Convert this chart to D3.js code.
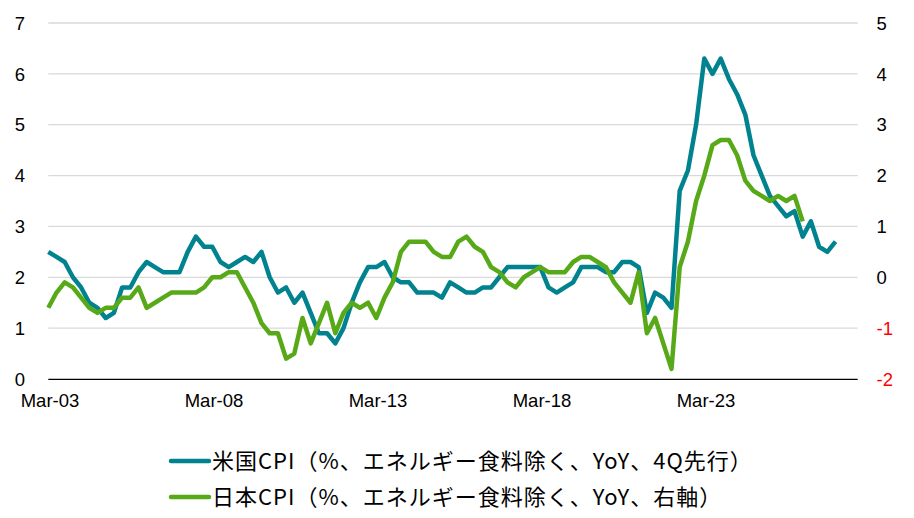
<!DOCTYPE html>
<meta charset="utf-8">
<style>
  body { margin: 0; background: #fff; }
  svg text { font-family: "Liberation Sans", Arial, sans-serif; }
  .legend text { font-family: "Noto Sans CJK JP", sans-serif; }
</style>
<script src="https://d3js.org/d3.v7.min.js"></script>
<body>
<svg width="914" height="518"></svg>
<script>
// quarterly, Mar-03 onward
var startYear = 2003;
var nQuarters = 100;
var tickLabels = ["Mar-03", "Mar-08", "Mar-13", "Mar-18", "Mar-23"];
var leftTicks = [0, 1, 2, 3, 4, 5, 6, 7];
var rightTicks = [-2, -1, 0, 1, 2, 3, 4, 5];

// US core CPI (YoY, shifted 4Q ahead) - left axis
var usCpi = [2.5, 2.4, 2.3, 2.0, 1.8, 1.5, 1.4, 1.2, 1.3, 1.8,
  1.8, 2.1, 2.3, 2.2, 2.1, 2.1, 2.1, 2.5, 2.8, 2.6,
  2.6, 2.3, 2.2, 2.3, 2.4, 2.3, 2.5, 2.0, 1.7, 1.8,
  1.5, 1.7, 1.3, 0.9, 0.9, 0.7, 1.0, 1.5, 1.9, 2.2,
  2.2, 2.3, 2.0, 1.9, 1.9, 1.7, 1.7, 1.7, 1.6, 1.9,
  1.8, 1.7, 1.7, 1.8, 1.8, 2.0, 2.2, 2.2, 2.2, 2.2,
  2.2, 1.8, 1.7, 1.8, 1.9, 2.2, 2.2, 2.2, 2.1, 2.1,
  2.3, 2.3, 2.2, 1.3, 1.7, 1.6, 1.4, 3.7, 4.1, 5.0,
  6.3, 6.0, 6.3, 5.9, 5.6, 5.2, 4.4, 4.0, 3.6, 3.4,
  3.2, 3.3, 2.8, 3.1, 2.6, 2.5, 2.7];

// Japan core CPI (YoY) - right axis
var jpCpi = [-0.6, -0.3, -0.1, -0.2, -0.4, -0.6, -0.7, -0.6, -0.6, -0.4,
  -0.4, -0.2, -0.6, -0.5, -0.4, -0.3, -0.3, -0.3, -0.3, -0.2,
  0.0, 0.0, 0.1, 0.1, -0.2, -0.5, -0.9, -1.1, -1.1, -1.6,
  -1.5, -0.8, -1.3, -0.9, -0.5, -1.1, -0.7, -0.5, -0.6, -0.5,
  -0.8, -0.4, -0.1, 0.5, 0.7, 0.7, 0.7, 0.5, 0.4, 0.4,
  0.7, 0.8, 0.6, 0.5, 0.2, 0.1, -0.1, -0.2, 0.0, 0.1,
  0.2, 0.1, 0.1, 0.1, 0.3, 0.4, 0.4, 0.3, 0.2, -0.1,
  -0.3, -0.5, 0.1, -1.1, -0.8, -1.3, -1.8, 0.2, 0.7, 1.5,
  2.0, 2.6, 2.7, 2.7, 2.4, 1.9, 1.7, 1.6, 1.5, 1.6,
  1.5, 1.6, 1.1];

var usName = "米国CPI（%、エネルギー食料除く、YoY、4Q先行）";
var jpName = "日本CPI（%、エネルギー食料除く、YoY、右軸）";
var usColor = "#00838f";
var jpColor = "#57a918";

var months = ["Mar", "Jun", "Sep", "Dec"];
var quarters = d3.range(nQuarters).map(function (i) {
  var y = startYear + Math.floor(i / 4);
  return months[i % 4] + "-" + String(y % 100).padStart(2, "0");
});

var svg = d3.select("svg");
var plotLeft = 48.3, plotRight = 857.7, plotTop = 23, plotBottom = 379;

var x = d3.scalePoint().domain(quarters).range([plotLeft, plotLeft + 8.2 * (nQuarters - 1)]);
var yL = d3.scaleLinear().domain([0, 7]).range([plotBottom, plotTop]);
var yR = d3.scaleLinear().domain([-2, 5]).range([plotBottom, plotTop]);

// gridlines
svg.append("g").selectAll("line")
  .data(leftTicks.filter(function (d) { return d > 0; }))
  .enter().append("line")
  .attr("x1", plotLeft).attr("x2", plotRight)
  .attr("y1", function (d) { return yL(d); })
  .attr("y2", function (d) { return yL(d); })
  .attr("stroke", "#d9d9d9").attr("stroke-width", 1.3);

// left axis labels
svg.append("g").selectAll("text")
  .data(leftTicks).enter().append("text")
  .attr("x", 25).attr("y", function (d) { return yL(d) + 6.7; })
  .attr("text-anchor", "end")
  .attr("font-size", "18.5px").attr("fill", "#000")
  .text(function (d) { return d; });

// right axis labels (negatives in red)
svg.append("g").selectAll("text")
  .data(rightTicks).enter().append("text")
  .attr("x", 876.5).attr("y", function (d) { return yR(d) + 6.7; })
  .attr("font-size", "18.5px")
  .attr("fill", function (d) { return d < 0 ? "#ff0000" : "#000"; })
  .text(function (d) { return d; });

// x axis
svg.append("line")
  .attr("x1", plotLeft).attr("x2", plotRight)
  .attr("y1", plotBottom + 0.3).attr("y2", plotBottom + 0.3)
  .attr("stroke", "#000").attr("stroke-width", 1.2);

svg.append("g").selectAll("text")
  .data(tickLabels).enter().append("text")
  .attr("x", function (d) { return x(d) + 1.7; })
  .attr("y", 406.7)
  .attr("text-anchor", "middle")
  .attr("font-size", "18.5px").attr("fill", "#000")
  .text(function (d) { return d; });

// lines
var lineL = d3.line()
  .x(function (d, i) { return x(quarters[i]); })
  .y(function (d) { return yL(d); });
var lineR = d3.line()
  .x(function (d, i) { return x(quarters[i]); })
  .y(function (d) { return yR(d); });

svg.append("path").datum(usCpi)
  .attr("d", lineL).attr("fill", "none")
  .attr("stroke", usColor).attr("stroke-width", 4.5)
  .attr("stroke-linejoin", "round");

svg.append("path").datum(jpCpi)
  .attr("d", lineR).attr("fill", "none")
  .attr("stroke", jpColor).attr("stroke-width", 4.5)
  .attr("stroke-linejoin", "round");

// legend
var legend = svg.append("g").attr("class", "legend");
var items = [{ name: usName, color: usColor }, { name: jpName, color: jpColor }];
var rows = legend.selectAll("g").data(items).enter().append("g")
  .attr("transform", function (d, i) { return "translate(170," + (461 + i * 36) + ")"; });
rows.append("line")
  .attr("x1", 1).attr("x2", 39)
  .attr("stroke", function (d) { return d.color; })
  .attr("stroke-width", 4.5).attr("stroke-linecap", "round");
rows.append("text")
  .attr("x", 42).attr("y", 8)
  .attr("font-size", "22px").attr("letter-spacing", "1px").attr("fill", "#000")
  .text(function (d) { return d.name; });
</script>
</body>
